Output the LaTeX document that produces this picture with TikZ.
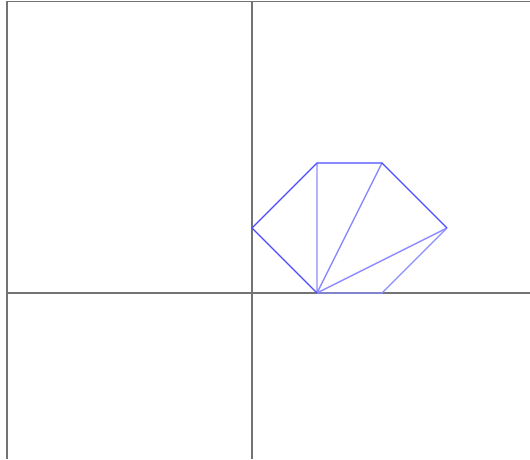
\documentclass[tikz,border=0pt]{standalone}
\usepackage{tikz}
\usetikzlibrary{calc}

\begin{document}
\begin{tikzpicture}[x=1cm,y=1cm,
  axisline/.style={black!55,line width=0.55pt},
  outeredge/.style={blue!70,line width=0.6pt},
  inneredge/.style={blue!45,line width=0.6pt}]
\useasboundingbox (-3.877,-2.554) rectangle (4.277,4.508);
% frame and axes
\draw[axisline] (-3.77,-2.554) -- (-3.77,4.48) -- (4.277,4.48);
\draw[axisline] (-3.77,0) -- (4.277,0);
\draw[axisline] (0,-2.554) -- (0,4.48);
% polygon vertices
\coordinate (a) at (0,1); \coordinate (b) at (1,2); \coordinate (c) at (2,2);
\coordinate (d) at (3,1); \coordinate (e) at (2,0); \coordinate (f) at (1,0);
% fan from f
\draw[inneredge] (f) -- (b) (f) -- (c) (f) -- (d);
\draw[inneredge] (d) -- (e) -- (f);
% outline
\draw[outeredge,line join=round] (f) -- (a) -- (b) -- (c) -- (d);
\end{tikzpicture}
\end{document}
